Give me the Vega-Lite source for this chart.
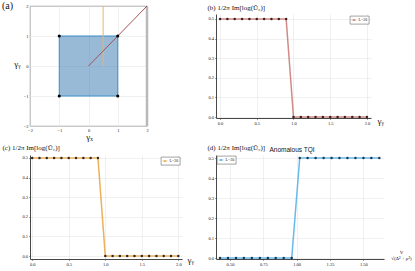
{
  "$schema": "https://vega.github.io/schema/vega-lite/v6.json",
  "autosize": {"type": "none"},
  "padding": {"left": 30, "top": 6, "right": 385, "bottom": 265},
  "background": "white",
  "columns": 2,
  "spacing": {"row": 29, "column": 34},
  "bounds": "flush",
  "align": {"row": "each", "column": "none"},
  "center": {"row": true, "column": false},
  "resolve": {"scale": {"color": "independent"}, "legend": {"color": "independent"}},
  "config": {
    "font": "Liberation Serif",
    "axis": {
      "labelFont": "Liberation Serif", "labelFontSize": 4.5, "labelColor": "#222", "labelPadding": 1,
      "tickSize": 1.5, "tickWidth": 0.5, "tickColor": "#444",
      "domainColor": "#333", "domainWidth": 0.9,
      "gridColor": "#e6e6e6", "gridWidth": 0.6,
      "titleFont": "Liberation Serif", "titleFontWeight": "normal", "titleColor": "#111",
      "labelFlush": false, "labelOverlap": false
    },
    "legend": {
      "title": null, "strokeColor": "#666", "strokeWidth": 0.6, "fillColor": "#ffffff",
      "padding": 1, "cornerRadius": 0, "labelFont": "Liberation Serif", "labelFontSize": 4,
      "labelColor": "#222", "labelOffset": 1.5, "symbolSize": 25, "symbolStrokeWidth": 0.8,
      "symbolType": "M-1,0H1M-0.3,0A0.3,0.3 0 1,1 0.3,0A0.3,0.3 0 1,1 -0.3,0Z",
      "rowPadding": 0
    }
  },
  "datasets": {
    "a_square": [{"x": -1, "x2": 1, "y": -1, "y2": 1}],
    "a_corners": [{"x": -1, "y": -1}, {"x": -1, "y": 1}, {"x": 1, "y": -1}, {"x": 1, "y": 1}],
    "a_edge": [{"x": 2}],
    "a_orange": [{"x": 0.5, "y": 0}, {"x": 0.5, "y": 2}],
    "a_diag": [{"x": 0, "y": 0}, {"x": 2, "y": 2}],
    "gamma_scan": [
      {"x": 0.0, "y": 0.5, "L": "L=20"}, {"x": 0.1, "y": 0.5, "L": "L=20"}, {"x": 0.2, "y": 0.5, "L": "L=20"},
      {"x": 0.3, "y": 0.5, "L": "L=20"}, {"x": 0.4, "y": 0.5, "L": "L=20"}, {"x": 0.5, "y": 0.5, "L": "L=20"},
      {"x": 0.6, "y": 0.5, "L": "L=20"}, {"x": 0.7, "y": 0.5, "L": "L=20"}, {"x": 0.8, "y": 0.5, "L": "L=20"},
      {"x": 0.9, "y": 0.5, "L": "L=20"}, {"x": 1.0, "y": 0.0, "L": "L=20"}, {"x": 1.1, "y": 0.0, "L": "L=20"},
      {"x": 1.2, "y": 0.0, "L": "L=20"}, {"x": 1.3, "y": 0.0, "L": "L=20"}, {"x": 1.4, "y": 0.0, "L": "L=20"},
      {"x": 1.5, "y": 0.0, "L": "L=20"}, {"x": 1.6, "y": 0.0, "L": "L=20"}, {"x": 1.7, "y": 0.0, "L": "L=20"},
      {"x": 1.8, "y": 0.0, "L": "L=20"}, {"x": 1.9, "y": 0.0, "L": "L=20"}, {"x": 2.0, "y": 0.0, "L": "L=20"}
    ],
    "v_scan": [
      {"x": 0.425, "y": 0.0, "L": "L=20"}, {"x": 0.485, "y": 0.0, "L": "L=20"}, {"x": 0.545, "y": 0.0, "L": "L=20"},
      {"x": 0.604, "y": 0.0, "L": "L=20"}, {"x": 0.664, "y": 0.0, "L": "L=20"}, {"x": 0.724, "y": 0.0, "L": "L=20"},
      {"x": 0.784, "y": 0.0, "L": "L=20"}, {"x": 0.843, "y": 0.0, "L": "L=20"}, {"x": 0.903, "y": 0.0, "L": "L=20"},
      {"x": 0.963, "y": 0.0, "L": "L=20"}, {"x": 1.023, "y": 0.5, "L": "L=20"}, {"x": 1.082, "y": 0.5, "L": "L=20"},
      {"x": 1.142, "y": 0.5, "L": "L=20"}, {"x": 1.202, "y": 0.5, "L": "L=20"}, {"x": 1.262, "y": 0.5, "L": "L=20"},
      {"x": 1.321, "y": 0.5, "L": "L=20"}, {"x": 1.381, "y": 0.5, "L": "L=20"}, {"x": 1.441, "y": 0.5, "L": "L=20"},
      {"x": 1.501, "y": 0.5, "L": "L=20"}, {"x": 1.560, "y": 0.5, "L": "L=20"}, {"x": 1.620, "y": 0.5, "L": "L=20"}
    ]
  },
  "concat": [
    {
      "width": 117, "height": 120,
      "title": {"text": "(a)", "anchor": "start", "frame": "group", "dx": -28, "dy": 13, "baseline": "middle", "offset": 0, "font": "Liberation Serif", "fontSize": 10, "fontWeight": "normal", "color": "#111"},
      "view": {"stroke": "#666", "strokeWidth": 0.8},
      "layer": [
        {
          "data": {"name": "a_square"},
          "mark": {"type": "rect", "fill": "#4682b4", "fillOpacity": 0.55, "stroke": "#3a8fc9", "strokeWidth": 1},
          "encoding": {
            "x": {"field": "x", "type": "quantitative", "scale": {"domain": [-2, 2], "nice": false},
                  "axis": {"values": [-2, -1, 0, 1, 2], "tickCount": 20, "labelOverlap": false, "format": "d", "domain": false, "ticks": false, "grid": true,
                           "title": "γₓ", "titleFontSize": 9, "titleX": 59, "titleY": 10, "titleAlign": "center", "titleBaseline": "middle"}},
            "x2": {"field": "x2"},
            "y": {"field": "y", "type": "quantitative", "scale": {"domain": [-2, 2], "nice": false},
                  "axis": {"values": [-2, -1, 0, 1, 2], "tickCount": 20, "labelOverlap": false, "format": "d", "domain": false, "ticks": false, "grid": true, "labelPadding": 2,
                           "title": "γᵧ", "titleFontSize": 9, "titleAngle": 0, "titleX": -13, "titleY": 57, "titleAlign": "center", "titleBaseline": "middle"}},
            "y2": {"field": "y2"}
          }
        },
        {
          "data": {"name": "a_edge"},
          "mark": {"type": "rule", "color": "#b9b9b9", "strokeWidth": 2.5},
          "encoding": {"x": {"field": "x", "type": "quantitative"}}
        },
        {
          "data": {"name": "a_orange"},
          "mark": {"type": "line", "color": "#eab46a", "strokeWidth": 1},
          "encoding": {"x": {"field": "x", "type": "quantitative"}, "y": {"field": "y", "type": "quantitative"}}
        },
        {
          "data": {"name": "a_diag"},
          "mark": {"type": "line", "color": "#a2554f", "strokeWidth": 1},
          "encoding": {"x": {"field": "x", "type": "quantitative"}, "y": {"field": "y", "type": "quantitative"}}
        },
        {
          "data": {"name": "a_corners"},
          "mark": {"type": "point", "filled": true, "color": "#000000", "size": 10, "opacity": 1},
          "encoding": {"x": {"field": "x", "type": "quantitative"}, "y": {"field": "y", "type": "quantitative"}}
        }
      ]
    },
    {
      "width": 155, "height": 104,
      "data": {"name": "gamma_scan"},
      "view": {"stroke": null},
      "layer": [
        {
          "mark": {"type": "line", "strokeWidth": 1.5, "opacity": 0.7},
          "encoding": {
            "x": {"field": "x", "type": "quantitative", "scale": {"domain": [-0.055, 2.055], "nice": false, "zero": false},
                  "axis": {"values": [0, 0.5, 1, 1.5, 2], "tickCount": 20, "labelOverlap": false, "format": ".1f", "title": "γᵧ", "titleFontSize": 9, "titleX": 161, "titleY": 2, "titleAlign": "left", "titleBaseline": "middle"}},
            "y": {"field": "y", "type": "quantitative", "scale": {"domain": [-0.005, 0.5255], "nice": false},
                  "axis": {"values": [0, 0.1, 0.2, 0.3, 0.4, 0.5], "tickCount": 20, "labelOverlap": false, "format": ".1f", "title": "(b) 1/2π Im[log(Ū₂)]", "titleFontSize": 7, "titleAngle": 0, "titleX": -9, "titleY": -7, "titleAlign": "left", "titleBaseline": "middle"}},
            "color": {"field": "L", "type": "nominal", "scale": {"range": ["#bb5a54"]},
                      "legend": {"orient": "top-right", "offset": 2, "symbolFillColor": "#3b1e1e"}}
          }
        },
        {
          "mark": {"type": "point", "filled": true, "size": 6, "color": "#3b1e1e", "opacity": 1},
          "encoding": {"x": {"field": "x", "type": "quantitative"}, "y": {"field": "y", "type": "quantitative"}}
        }
      ]
    },
    {
      "width": 152, "height": 104,
      "data": {"name": "gamma_scan"},
      "view": {"stroke": null},
      "layer": [
        {
          "mark": {"type": "line", "strokeWidth": 1.5, "opacity": 0.85},
          "encoding": {
            "x": {"field": "x", "type": "quantitative", "scale": {"domain": [-0.03, 2.05], "nice": false, "zero": false},
                  "axis": {"values": [0, 0.5, 1, 1.5, 2], "tickCount": 20, "labelOverlap": false, "format": ".1f", "title": "γᵧ", "titleFontSize": 9, "titleX": 157, "titleY": 0, "titleAlign": "left", "titleBaseline": "middle"}},
            "y": {"field": "y", "type": "quantitative", "scale": {"domain": [-0.015, 0.515], "nice": false},
                  "axis": {"values": [0, 0.1, 0.2, 0.3, 0.4, 0.5], "tickCount": 20, "labelOverlap": false, "format": ".1f", "title": "(c) 1/2π Im[log(Ū₂)]", "titleFontSize": 7, "titleAngle": 0, "titleX": -28, "titleY": -8, "titleAlign": "left", "titleBaseline": "middle"}},
            "color": {"field": "L", "type": "nominal", "scale": {"range": ["#e7a23c"]},
                      "legend": {"orient": "top-right", "offset": 2, "symbolFillColor": "#e7a23c"}}
          }
        },
        {
          "mark": {"type": "point", "filled": true, "size": 6, "color": "#2e2a24", "opacity": 1},
          "encoding": {"x": {"field": "x", "type": "quantitative"}, "y": {"field": "y", "type": "quantitative"}}
        }
      ]
    },
    {
      "width": 168, "height": 104,
      "data": {"name": "v_scan"},
      "view": {"stroke": null},
      "title": {"text": "Anomalous TQI", "anchor": "middle", "frame": "group", "dx": -8, "dy": 16, "baseline": "bottom", "offset": 0, "font": "Liberation Sans", "fontSize": 6.5, "fontWeight": "normal", "color": "#111"},
      "layer": [
        {
          "mark": {"type": "line", "strokeWidth": 1.5, "opacity": 0.9},
          "encoding": {
            "x": {"field": "x", "type": "quantitative", "scale": {"domain": [0.395, 1.655], "nice": false, "zero": false},
                  "axis": {"values": [0.5, 0.75, 1, 1.25, 1.5], "tickCount": 20, "labelOverlap": false, "format": ".2f", "title": ["V", "√(Δ² + μ²)"], "titleFontSize": 5, "titleX": 185, "titleY": -8, "titleAlign": "center", "titleBaseline": "middle", "titleLineHeight": 6}},
            "y": {"field": "y", "type": "quantitative", "scale": {"domain": [-0.005, 0.515], "nice": false},
                  "axis": {"values": [0, 0.1, 0.2, 0.3, 0.4, 0.5], "tickCount": 20, "labelOverlap": false, "format": ".1f", "title": "(d) 1/2π Im[log(Ū₂)]", "titleFontSize": 7, "titleAngle": 0, "titleX": -9, "titleY": -8, "titleAlign": "left", "titleBaseline": "middle"}},
            "color": {"field": "L", "type": "nominal", "scale": {"range": ["#56b4e9"]},
                      "legend": {"orient": "top-left", "offset": 1, "symbolFillColor": "#1c3550"}}
          }
        },
        {
          "mark": {"type": "point", "filled": true, "size": 6, "color": "#1c3550", "opacity": 1},
          "encoding": {"x": {"field": "x", "type": "quantitative"}, "y": {"field": "y", "type": "quantitative"}}
        }
      ]
    }
  ]
}
